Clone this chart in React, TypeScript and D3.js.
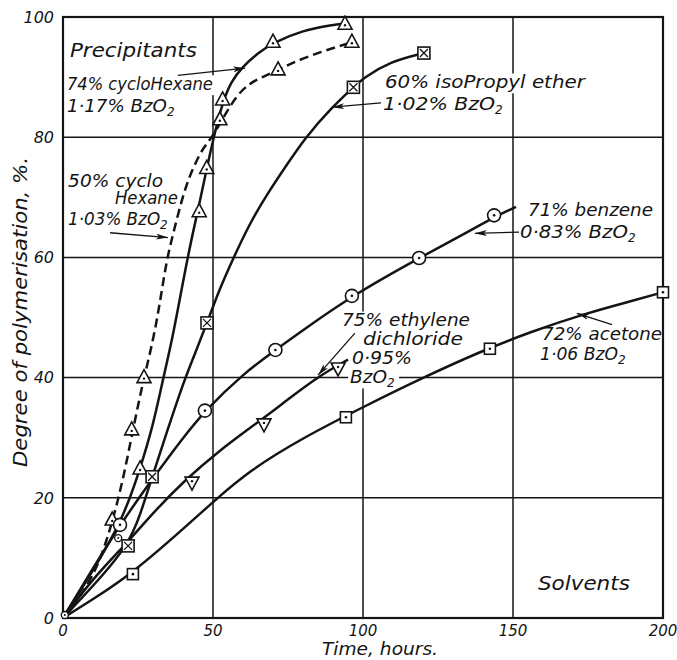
import * as d3 from 'd3';

type Pt = [number, number];

// axis ticks
const xTicks = [0, 50, 100, 150, 200];
const yTicks = [0, 20, 40, 60, 80, 100];

// 74% cyclohexane (solid, triangles)
const cyclo74Curve: Pt[] = [[0, 0], [10, 7.8], [20, 16.5], [25.7, 24.8], [30, 32], [33, 39], [36.5, 46.5], [40, 56], [43, 63.5], [45.5, 69], [48, 75], [50, 79.5], [53, 85.5], [56, 89.3], [60, 91.8], [65, 94], [70, 95.7], [80, 97.8], [90, 98.7], [94, 98.9]];
const cyclo74Points: Pt[] = [[25.7, 24.8], [45.4, 67.6], [47.9, 74.8], [53.2, 86.2], [70, 95.8], [94, 98.8]];

// 50% cyclohexane (dashed, triangles)
const cyclo50Curve: Pt[] = [[0, 0], [6, 3.8], [11.7, 8.5], [16.4, 15.8], [20, 23], [23, 30.5], [26.5, 39], [30, 46], [32.5, 53], [34.5, 59.5], [37, 64.5], [39.6, 69.6], [42, 73.3], [44.6, 76.2], [47, 78.4], [49.6, 79.9], [53.4, 83.2], [57.9, 87], [62.3, 89], [66, 89.9], [71.7, 91.2], [80, 93.2], [92.3, 95.2], [96.3, 95.8]];
const cyclo50Points: Pt[] = [[16.4, 16.3], [22.9, 31.3], [27, 40], [52.3, 82.9], [71.7, 91.2], [96.3, 95.8]];

// 60% isopropyl ether (squares with cross)
const etherCurve: Pt[] = [[0, 0], [10, 5.3], [21.7, 12], [26, 17.5], [29.7, 23.5], [35, 31.5], [40, 39], [44, 44], [48, 49.1], [52, 54.5], [56.7, 59.8], [62.3, 65.7], [68, 70.5], [75, 75.7], [80.7, 79.9], [89.7, 85], [96.8, 88.3], [100, 89.8], [109, 92.6], [120.3, 94]];
const etherPoints: Pt[] = [[21.7, 12], [29.7, 23.5], [48, 49.1], [96.8, 88.3], [120.3, 94]];

// 71% benzene (circles)
const benzeneCurve: Pt[] = [[0, 0], [10, 8.3], [19, 15.5], [30, 23.3], [40, 30], [47.3, 34.5], [60, 40.6], [70.8, 44.6], [80, 47.9], [96.3, 53.6], [118.7, 59.9], [137, 64.8], [143.7, 66.7], [151, 68.4]];
const benzenePoints: Pt[] = [[19, 15.5], [47.3, 34.5], [70.8, 44.6], [96.3, 53.6], [118.7, 59.9], [143.7, 67]];

// 75% ethylene dichloride (inverted triangles)
const ethyleneCurve: Pt[] = [[0, 0], [10, 6.6], [21.7, 12.7], [30, 17.5], [40.7, 23], [52, 27.8], [62.3, 31.6], [72, 35.2], [84.7, 40.1], [95, 43]];
const ethylenePoints: Pt[] = [[43, 22.6], [67, 32.3], [91.7, 41.6]];

// 72% acetone (squares with dot)
const acetoneCurve: Pt[] = [[0, 0], [10, 3.1], [23.3, 7.5], [40.7, 15.1], [50, 19.3], [62.3, 24.6], [80, 30], [100, 35.1], [120, 40], [139, 44.3], [155.7, 47.6], [175, 50.8], [190, 52.8], [200, 54.2]];
const acetonePoints: Pt[] = [[23.3, 7.3], [94.3, 33.4], [142.3, 44.8], [200, 54.2]];

const smallPoints: Pt[] = [[18.4, 13.3], [0.6, 0.5]];

const W = 677;
const H = 660;
const x = d3.scaleLinear().domain([0, 200]).range([63, 663]);
const y = d3.scaleLinear().domain([0, 100]).range([618, 17]);

// basis spline smooths out the reading noise in the traced points
const line = d3.line<Pt>().x(d => x(d[0])).y(d => y(d[1])).curve(d3.curveBasis);

const series = [
    { curve: cyclo74Curve, points: cyclo74Points, mark: 'triUp', dashed: false },
    { curve: cyclo50Curve, points: cyclo50Points, mark: 'triUp', dashed: true },
    { curve: etherCurve, points: etherPoints, mark: 'squareX', dashed: false },
    { curve: benzeneCurve, points: benzenePoints, mark: 'circle', dashed: false },
    { curve: ethyleneCurve, points: ethylenePoints, mark: 'triDown', dashed: false },
    { curve: acetoneCurve, points: acetonePoints, mark: 'squareDot', dashed: false },
];

// annotation text: position in data units, width in px
const labels = [
    { text: 'Precipitants', x: 2.3, y: 93.3, w: 127, fs: 19 },
    { text: '74% cycloHexane', x: 1.3, y: 87.9, w: 146, fs: 18 },
    { text: '1·17% BzO', sub: true, x: 1.3, y: 84.2, w: 100, fs: 18 },
    { text: '50% cyclo', x: 1.7, y: 71.7, w: 95, fs: 18 },
    { text: 'Hexane', x: 17.3, y: 68.9, w: 63, fs: 17 },
    { text: '1·03% BzO', sub: true, x: 1.7, y: 65.4, w: 92, fs: 18 },
    { text: '60% isoPropyl ether', x: 107.3, y: 88.2, w: 200, fs: 18 },
    { text: '1·02% BzO', sub: true, x: 106.7, y: 84.5, w: 112, fs: 18 },
    { text: '71% benzene', x: 155, y: 66.9, w: 125, fs: 18 },
    { text: '0·83% BzO', sub: true, x: 152.3, y: 63.2, w: 108, fs: 18 },
    { text: '75% ethylene', x: 93, y: 48.6, w: 128, fs: 18 },
    { text: 'dichloride', x: 100, y: 45.4, w: 100, fs: 18 },
    { text: '0·95%', x: 96.3, y: 42.3, w: 60, fs: 18 },
    { text: 'BzO', sub: true, x: 95.7, y: 39.1, w: 37, fs: 18 },
    { text: '72% acetone', x: 159.7, y: 46.3, w: 120, fs: 18 },
    { text: '1·06 BzO', sub: true, x: 159, y: 42.9, w: 78, fs: 18 },
    { text: 'Solvents', x: 158.3, y: 4.7, w: 92, fs: 19 },
];

// arrows: [from, to] in data units
const arrows: [Pt, Pt][] = [
    [[38.3, 90.3], [60.7, 91.5]],
    [[15.7, 64.1], [35, 63.3]],
    [[106, 85.7], [89.7, 85]],
    [[152, 64.2], [137.3, 64]],
    [[97.3, 47.4], [85, 40.4]],
    [[183, 48.8], [171.3, 50.7]],
];

const font = '"DejaVu Sans", sans-serif';
const ink = '#141414';

function Marker({ kind, cx, cy }: { kind: string; cx: number; cy: number }) {
    const sw = 1.6;
    if (kind === 'triUp' || kind === 'triDown') {
        const s = kind === 'triUp' ? 1 : -1;
        const d = `M${cx},${cy - 8 * s} L${cx + 7},${cy + 5 * s} L${cx - 7},${cy + 5 * s} Z`;
        return (
            <g>
                <path d={d} fill="#fff" stroke={ink} strokeWidth={sw} />
                <circle cx={cx} cy={cy + 1 * s} r={1.2} fill={ink} />
            </g>
        );
    }
    if (kind === 'squareX') {
        const h = 6;
        return (
            <g>
                <rect x={cx - h} y={cy - h} width={2 * h} height={2 * h} fill="#fff" stroke={ink} strokeWidth={sw} />
                <path d={`M${cx - h + 2},${cy - h + 2} L${cx + h - 2},${cy + h - 2} M${cx + h - 2},${cy - h + 2} L${cx - h + 2},${cy + h - 2}`} stroke={ink} strokeWidth={1.3} />
            </g>
        );
    }
    if (kind === 'squareDot') {
        const h = 5.5;
        return (
            <g>
                <rect x={cx - h} y={cy - h} width={2 * h} height={2 * h} fill="#fff" stroke={ink} strokeWidth={sw} />
                <circle cx={cx} cy={cy} r={1.3} fill={ink} />
            </g>
        );
    }
    if (kind === 'small') {
        return (
            <g>
                <circle cx={cx} cy={cy} r={3.5} fill="#fff" stroke={ink} strokeWidth={1.3} />
                <circle cx={cx} cy={cy} r={1} fill={ink} />
            </g>
        );
    }
    return (
        <g>
            <circle cx={cx} cy={cy} r={6.5} fill="#fff" stroke={ink} strokeWidth={sw} />
            <circle cx={cx} cy={cy} r={1.3} fill={ink} />
        </g>
    );
}

export default function App() {
    const [x0, x1] = x.range();
    const [y0, y1] = y.range();
    return (
        <svg width={W} height={H} style={{ position: 'absolute', left: 0, top: 0, background: '#fff' }}>
            <defs>
                <marker id="ah" viewBox="0 0 12 6" refX="12" refY="3" markerWidth="12" markerHeight="6" orient="auto" markerUnits="userSpaceOnUse">
                    <path d="M0,0 L12,3 L0,6 L3,3 Z" fill={ink} />
                </marker>
            </defs>
            <rect width={W} height={H} fill="#fff" />

            {/* grid */}
            {xTicks.slice(1, -1).map(t => (
                <line key={'gx' + t} x1={x(t)} x2={x(t)} y1={y1} y2={y0} stroke={ink} strokeWidth={1.5} />
            ))}
            {yTicks.slice(1, -1).map(t => (
                <line key={'gy' + t} x1={x0} x2={x1} y1={y(t)} y2={y(t)} stroke={ink} strokeWidth={1.5} />
            ))}

            {/* white behind the labels breaks the grid lines */}
            {labels.map((l, i) => (
                <rect key={'bg' + i} x={x(l.x) - 2} y={y(l.y) - l.fs * 0.8} width={l.w + (l.sub ? 10 : 0) + 4} height={l.fs * 1.1} fill="#fff" />
            ))}

            <rect x={x0} y={y1} width={x1 - x0} height={y0 - y1} fill="none" stroke={ink} strokeWidth={2.2} />

            {/* curves */}
            {series.map((s, i) => (
                <path key={'c' + i} d={line(s.curve) || ''} fill="none" stroke={ink} strokeWidth={2.5}
                    strokeDasharray={s.dashed ? '9 5' : undefined} />
            ))}

            {/* arrows */}
            {arrows.map((a, i) => (
                <line key={'a' + i} x1={x(a[0][0])} y1={y(a[0][1])} x2={x(a[1][0])} y2={y(a[1][1])}
                    stroke={ink} strokeWidth={1.3} markerEnd="url(#ah)" />
            ))}

            {/* markers */}
            {series.map((s, i) => s.points.map((p, j) => (
                <Marker key={`m${i}-${j}`} kind={s.mark} cx={x(p[0])} cy={y(p[1])} />
            )))}
            {smallPoints.map((p, j) => (
                <Marker key={'sm' + j} kind="small" cx={x(p[0])} cy={y(p[1])} />
            ))}

            {/* labels */}
            {labels.map((l, i) => (
                <text key={'l' + i} x={x(l.x)} y={y(l.y)} fontFamily={font} fontStyle="italic" fontSize={l.fs} fill={ink}>
                    <tspan textLength={l.w} lengthAdjust="spacingAndGlyphs">{l.text}</tspan>
                    {l.sub && <tspan dy={4} fontSize={12}>2</tspan>}
                </text>
            ))}

            {/* tick labels */}
            {xTicks.map(t => (
                <text key={'tx' + t} x={x(t)} y={636} textAnchor="middle" fontFamily={font} fontStyle="italic" fontSize={15} fill={ink}>{t}</text>
            ))}
            {yTicks.map(t => (
                <text key={'ty' + t} x={x0 - 9} y={y(t)} dy="0.36em" textAnchor="end" fontFamily={font} fontStyle="italic" fontSize={16} fill={ink}>{t}</text>
            ))}

            {/* axis titles */}
            <text x={380} y={655} textAnchor="middle" fontFamily={font} fontStyle="italic" fontSize={17} fill={ink}
                textLength={116} lengthAdjust="spacingAndGlyphs">Time, hours.</text>
            <text transform="translate(27,312) rotate(-90)" textAnchor="middle" fontFamily={font} fontStyle="italic" fontSize={19} fill={ink}
                textLength={310} lengthAdjust="spacingAndGlyphs">Degree of polymerisation, %.</text>
        </svg>
    );
}
